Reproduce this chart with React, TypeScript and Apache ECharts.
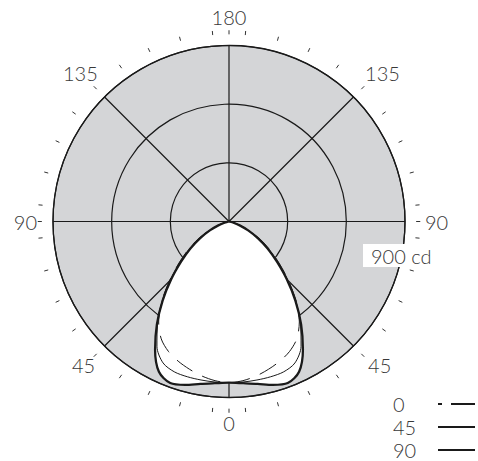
import React, { useEffect, useRef } from 'react';
import * as echarts from 'echarts';

// Half-plane angles (degrees from nadir) and luminous intensity (cd) per C-plane
const ANGLES = [0, 5, 10, 15, 20, 25, 30, 35, 40, 45, 50, 55, 60, 65, 70, 75, 80, 85, 90];
const C0 = [824, 817, 802, 782, 760, 733, 693, 627, 535, 432, 338, 258, 186, 121, 68, 29, 9, 2, 0];
const C45 = [824, 824, 823, 822, 818, 798, 737, 637, 532, 426, 330, 250, 179, 115, 63, 27, 8, 2, 0];
const C90 = [824, 830, 843, 865, 879, 848, 756, 643, 528, 418, 320, 241, 170, 108, 58, 24, 7, 1, 0];
const SERIES_NAMES = ['0', '45', '90'];

const RADIUS_MAX = 900;
const RADIUS_STEP = 300;
const ANGLE_STEP = 45;
const TICK_ANGLES = [
  0, 5, 15, 25, 35, 45, 55, 65, 75, 85, 90, 95, 105, 115, 125, 135, 145, 155, 165, 175,
  180, 185, 195, 205, 215, 225, 235, 245, 255, 265, 270, 275, 285, 295, 305, 315, 325, 335, 345, 355,
];
const UNIT_LABEL = '900 cd';

const FONT = 'Lato';
const TEXT_COLOR = '#383838';
const LINE_COLOR = '#1a1a1a';
const GRAY = '#d4d5d7';
const TICK_IN = 957;
const TICK_OUT = 978;

function loop(vals: number[]): number[][] {
  const pts: number[][] = [];
  for (let i = ANGLES.length - 1; i >= 1; i--) pts.push([vals[i], 360 - ANGLES[i]]);
  for (let i = 0; i < ANGLES.length; i++) pts.push([vals[i], ANGLES[i]]);
  return pts;
}

const txt = { color: TEXT_COLOR, fontSize: 20, fontFamily: FONT, fontWeight: 300 };

const LABEL_TOKENS: Record<number, string> = {
  0: 'b', 45: 'l45', 90: 'l90', 135: 'l135', 180: 't', 225: 'r135', 270: 'r90', 315: 'r45',
};

export default function App() {
  const ref = useRef<HTMLDivElement>(null);
  useEffect(() => {
    if (!ref.current) return;
    const chart = echarts.init(ref.current, undefined, { renderer: 'svg' });
    const curves = [C0, C45, C90];
    const lineStyles = [
      { color: LINE_COLOR, width: 1, type: [19, 11] as any },
      { color: LINE_COLOR, width: 1, type: 'solid' as any },
      { color: LINE_COLOR, width: 2.3, type: 'solid' as any },
    ];
    const areaSeries = curves.map((c, i) => ({
      type: 'line',
      name: 'fill' + i,
      coordinateSystem: 'polar',
      polarIndex: 1,
      data: loop(c),
      smooth: 0.3,
      symbol: 'none',
      showSymbol: false,
      silent: true,
      lineStyle: { width: 0, opacity: 0 },
      areaStyle: { color: '#ffffff', opacity: 1 },
      z: 2,
    }));
    const lineSeries = curves.map((c, i) => ({
      type: 'line',
      name: SERIES_NAMES[i],
      coordinateSystem: 'polar',
      polarIndex: 1,
      data: loop(c),
      smooth: 0.3,
      symbol: 'none',
      showSymbol: false,
      silent: true,
      color: LINE_COLOR,
      lineStyle: lineStyles[i],
      z: 3,
    }));
    const tickSeries = {
      type: 'custom',
      coordinateSystem: 'polar',
      polarIndex: 1,
      silent: true,
      data: TICK_ANGLES.map((a) => [0, a]),
      renderItem: (params: any, api: any) => {
        const a = api.value(1);
        const p1 = api.coord([TICK_IN, a]);
        const p2 = api.coord([TICK_OUT, a]);
        return {
          type: 'line',
          shape: { x1: p1[0], y1: p1[1], x2: p2[0], y2: p2[1] },
          style: { stroke: '#333', lineWidth: 1 },
        };
      },
      z: 1,
    };
    chart.setOption({
      animation: false,
      polar: [
        { center: [229, 221.5], radius: 176 },
        { center: [229, 221.5], radius: 176 },
      ],
      angleAxis: [
        {
          polarIndex: 0,
          type: 'value',
          min: 0,
          max: 360,
          interval: ANGLE_STEP,
          startAngle: 270,
          z: 0,
          axisLine: { show: false },
          axisTick: { show: false },
          axisLabel: { show: false },
          splitLine: { show: false },
        },
        {
          polarIndex: 1,
          type: 'value',
          min: 0,
          max: 360,
          interval: ANGLE_STEP,
          startAngle: 270,
          clockwise: true,
          z: 1,
          axisLine: { show: true, lineStyle: { color: LINE_COLOR, width: 1.3 } },
          axisTick: { show: false },
          splitLine: { show: true, lineStyle: { color: LINE_COLOR, width: 1.2 } },
          axisLabel: {
            show: true,
            margin: 15,
            ...txt,
            formatter: (v: number) => {
              if (v >= 360) return '';
              const shown = v <= 180 ? v : 360 - v;
              return `{${LABEL_TOKENS[v] || 'b'}|${shown}}`;
            },
            rich: {
              b: { ...txt },
              t: { ...txt, padding: [0, 0, 4, 0] },
              l90: { ...txt, padding: [0, 1, 0, 0] },
              r90: { ...txt, padding: [0, 0, 0, 5] },
              l135: { ...txt, width: 31, align: 'left', padding: [0, 0, 3, 0] },
              r135: { ...txt, padding: [0, 0, 3, 1] },
              l45: { ...txt, lineHeight: 16, width: 22, align: 'left' },
              r45: { ...txt, lineHeight: 16, padding: [0, 0, 0, 4] },
            },
          },
        },
      ],
      radiusAxis: [
        {
          polarIndex: 0,
          type: 'value',
          min: 0,
          max: RADIUS_MAX,
          interval: RADIUS_STEP,
          z: 0,
          axisLine: { show: false },
          axisTick: { show: false },
          axisLabel: { show: false },
          splitLine: { show: false },
          splitArea: { show: true, areaStyle: { color: [GRAY] } },
        },
        {
          polarIndex: 1,
          type: 'value',
          min: 0,
          max: RADIUS_MAX,
          interval: RADIUS_STEP,
          z: 1,
          axisLine: { show: false },
          axisTick: { show: false },
          axisLabel: { show: false },
          splitLine: { show: true, lineStyle: { color: LINE_COLOR, width: 1.2 } },
          splitArea: { show: false },
        },
      ],
      legend: {
        data: [
          { name: SERIES_NAMES[0], lineStyle: { type: [24, 9], dashOffset: 20 } },
          { name: SERIES_NAMES[1] },
          { name: SERIES_NAMES[2] },
        ],
        orient: 'vertical',
        right: 2,
        top: 394,
        align: 'right',
        itemWidth: 37,
        itemHeight: 20,
        itemGap: 3,
        padding: 0,
        selectedMode: false,
        itemStyle: { color: 'rgba(0,0,0,0)', borderWidth: 0, opacity: 0 },
        formatter: (n: string) => `{t|${n}}`,
        textStyle: {
          ...txt,
          rich: { t: { ...txt, width: 40, align: 'left' } },
        },
      },
      graphic: [
        {
          type: 'text',
          x: 363,
          y: 244,
          z: 100,
          silent: true,
          style: {
            text: UNIT_LABEL,
            fill: TEXT_COLOR,
            fontSize: 20,
            fontFamily: FONT,
            fontWeight: 300,
            lineHeight: 20,
            align: 'left',
            verticalAlign: 'top',
            backgroundColor: '#ffffff',
            padding: [2, 4, 1, 8],
          },
        },
      ],
      series: [...areaSeries, ...lineSeries, tickSeries],
    });
    return () => chart.dispose();
  }, []);
  return <div ref={ref} style={{ position: 'absolute', left: 0, top: 0, width: 478, height: 461 }} />;
}
